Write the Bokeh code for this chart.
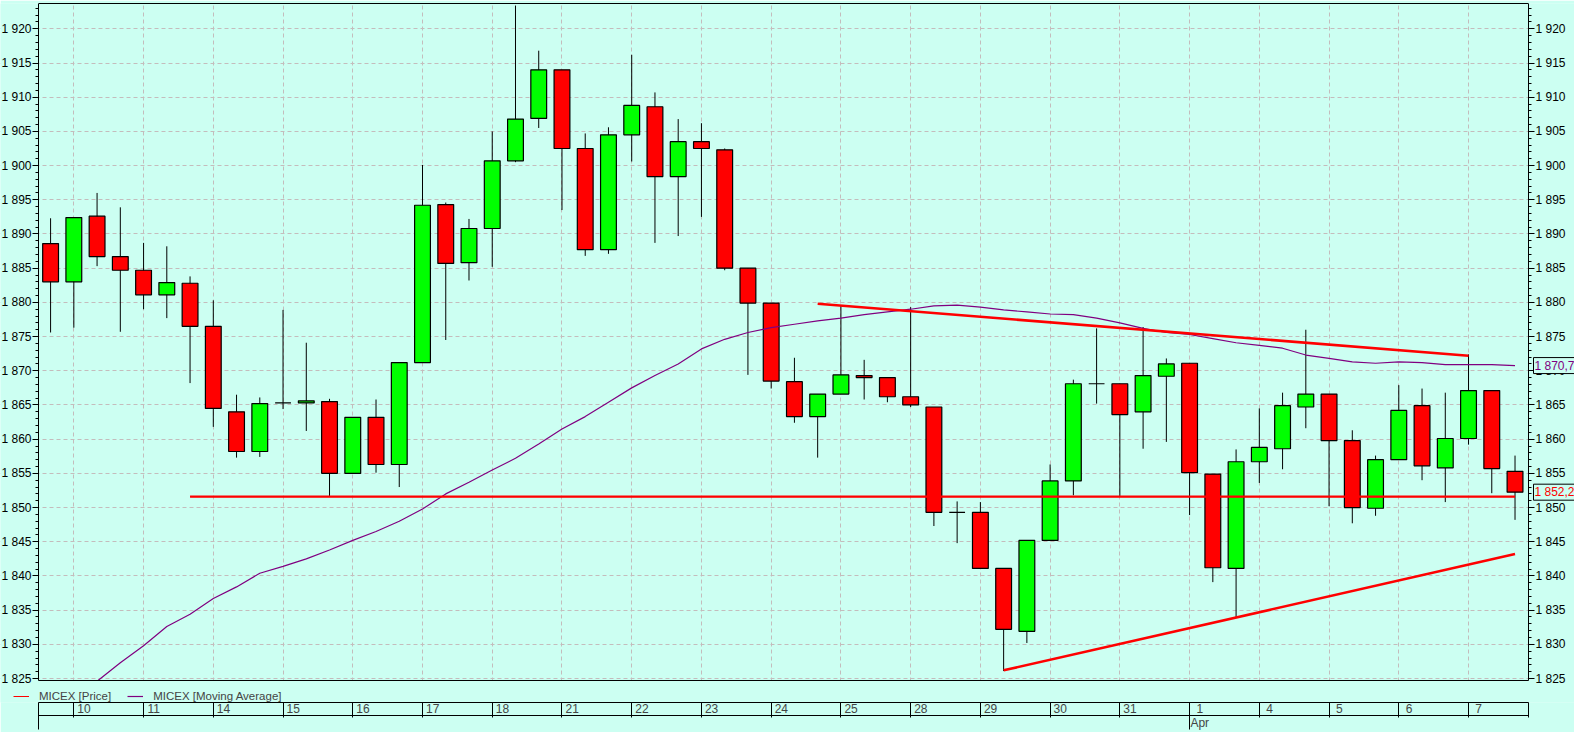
from bokeh.plotting import figure
from bokeh.models import (Range1d, LinearAxis, FixedTicker, SingleIntervalTicker, Grid,
                          CustomJSTickFormatter, ColumnDataSource, Legend, LegendItem, Label)
from bokeh.embed import file_html
from bokeh.resources import INLINE

# ---------------- data ----------------
opens = [1888.6, 1883.0, 1892.6, 1886.7, 1884.7, 1881.1, 1882.8, 1876.5, 1864.0, 1858.2,
         1865.3, 1865.3, 1865.5, 1855.0, 1863.2, 1856.3, 1871.2, 1894.3, 1885.8, 1890.8,
         1900.7, 1906.9, 1914.0, 1902.5, 1887.7, 1904.5, 1908.6, 1898.4, 1903.5, 1902.3,
         1885.0, 1879.9, 1868.4, 1863.3, 1866.6, 1869.3, 1869.0, 1866.2, 1864.7, 1849.3,
         1849.3, 1841.1, 1831.9, 1845.2, 1853.9, 1868.1, 1868.1, 1864.0, 1869.2, 1871.1,
         1854.9, 1841.1, 1856.7, 1858.6, 1864.7, 1866.6, 1859.8, 1849.9, 1857.0, 1864.9,
         1855.8, 1860.1, 1867.1, 1855.3]
highs = [1892.3, 1892.4, 1896.0, 1893.9, 1888.7, 1888.2, 1883.8, 1880.3, 1866.5, 1866.1,
         1878.9, 1874.1, 1865.9, 1863.2, 1865.8, 1871.2, 1900.1, 1894.6, 1892.2, 1905.0,
         1923.4, 1916.8, 1914.0, 1904.7, 1905.6, 1916.2, 1910.7, 1906.8, 1906.2, 1902.5,
         1885.0, 1879.9, 1871.9, 1866.6, 1879.5, 1871.6, 1869.0, 1879.3, 1864.7, 1850.9,
         1850.8, 1841.1, 1845.2, 1856.3, 1868.7, 1876.2, 1868.1, 1876.4, 1871.8, 1871.1,
         1854.9, 1858.5, 1864.5, 1866.8, 1876.0, 1866.6, 1861.3, 1857.6, 1867.9, 1867.4,
         1866.8, 1872.4, 1867.1, 1857.6]
lows = [1875.6, 1876.3, 1885.3, 1875.7, 1879.0, 1877.7, 1868.2, 1861.8, 1857.3, 1857.4,
        1864.4, 1861.2, 1851.7, 1855.0, 1855.1, 1853.0, 1871.2, 1874.5, 1883.2, 1885.2,
        1900.5, 1905.5, 1893.5, 1886.8, 1887.1, 1900.6, 1888.7, 1889.7, 1892.5, 1884.7,
        1869.4, 1867.4, 1862.4, 1857.3, 1866.6, 1865.8, 1865.4, 1864.7, 1847.3, 1844.8,
        1841.1, 1826.1, 1830.2, 1845.2, 1851.8, 1865.2, 1851.7, 1858.6, 1859.6, 1848.9,
        1839.1, 1833.9, 1853.6, 1855.6, 1861.6, 1850.2, 1847.7, 1848.8, 1857.0, 1854.0,
        1850.8, 1859.2, 1852.1, 1848.2]
closes = [1883.0, 1892.4, 1886.7, 1884.7, 1881.1, 1882.9, 1876.5, 1864.5, 1858.2, 1865.2,
          1865.3, 1865.6, 1855.0, 1863.2, 1856.3, 1871.2, 1894.2, 1885.7, 1890.8, 1900.7,
          1906.8, 1914.0, 1902.5, 1887.7, 1904.5, 1908.8, 1898.4, 1903.5, 1902.5, 1885.0,
          1879.9, 1868.5, 1863.3, 1866.6, 1869.4, 1869.0, 1866.2, 1865.0, 1849.3, 1849.3,
          1841.1, 1832.2, 1845.2, 1853.9, 1868.1, 1868.1, 1863.6, 1869.3, 1871.0, 1855.1,
          1841.2, 1856.7, 1858.8, 1864.9, 1866.6, 1859.8, 1850.0, 1857.0, 1864.2, 1856.1,
          1860.1, 1867.1, 1855.7, 1852.25]
moving_avg = [1819.6, 1822.1, 1824.6, 1827.3, 1829.8, 1832.6, 1834.4, 1836.7, 1838.4, 1840.4,
              1841.4, 1842.5, 1843.8, 1845.2, 1846.5, 1848.0, 1849.8, 1852.0, 1853.7, 1855.5,
              1857.2, 1859.3, 1861.5, 1863.3, 1865.4, 1867.5, 1869.3, 1871.0, 1873.2, 1874.6,
              1875.6, 1876.3, 1876.8, 1877.3, 1877.7, 1878.2, 1878.6, 1879.0, 1879.5, 1879.6,
              1879.3, 1878.9, 1878.6, 1878.3, 1878.2, 1877.7, 1877.0, 1876.2, 1875.6, 1875.3,
              1874.7, 1874.1, 1873.7, 1873.3, 1872.3, 1871.8, 1871.3, 1871.1, 1871.3, 1871.2,
              1870.9, 1870.9, 1870.9, 1870.76]

# trend lines drawn on the chart (bar index, price)
support_x = [6, 63]
support_y = [1851.6, 1851.6]
resist_x = [33, 61]
resist_y = [1879.8, 1872.2]
rising_x = [41, 63]
rising_y = [1826.2, 1843.2]

days = ["10", "11", "14", "15", "16", "17", "18", "21", "22", "23", "24", "25",
        "28", "29", "30", "31", "1", "4", "5", "6", "7"]
first_day_bar = 1          # bar where day "10" starts
bars_per_day = 3
month_label = "Apr"
month_day_index = 16       # "1" April in days list

y_major = 5

# ---------------- styling / layout ----------------
BG = "#CCFFF2"
GRID = "#C4BCBC"
RED = "#FF0000"
GREEN = "#00FF00"
PURPLE = "#800080"
FONT = "Liberation Sans"

W, H = 1574, 732
PRICE_LEFT_PX = 38          # left edge of the price area
PRICE_RIGHT_PX = 1528       # right edge of the price area
TOP_PX = 3
PRICE_BOTTOM_PX = 681
LEGEND_STRIP_PX = 22        # strip under the price area holding the legend
DATE_ROWS_PX = H - PRICE_BOTTOM_PX - LEGEND_STRIP_PX

n = len(opens)
idx = list(range(n))
x_lo, x_hi = -0.52, n - 0.42                  # price area in bar units
px_per_bar = (PRICE_RIGHT_PX - PRICE_LEFT_PX) / (x_hi - x_lo)
x_start = x_lo - PRICE_LEFT_PX / px_per_bar
x_end = x_hi + (W - PRICE_RIGHT_PX) / px_per_bar
y_lo, y_hi = 1824.71, 1923.7                  # price area in price units
px_per_unit = (PRICE_BOTTOM_PX - TOP_PX) / (y_hi - y_lo)
y_start = y_lo - LEGEND_STRIP_PX / px_per_unit

day_start = [first_day_bar + bars_per_day * k for k in range(len(days))]
lab_off = 0.4375
month_x = day_start[month_day_index]

p = figure(width=W, height=H, output_backend="svg", toolbar_location=None,
           x_range=Range1d(x_start, x_end), y_range=Range1d(y_start, y_hi),
           x_axis_type=None, y_axis_type=None,
           min_border_left=0, min_border_right=0, min_border_top=TOP_PX,
           min_border_bottom=DATE_ROWS_PX,
           background_fill_color=BG, border_fill_color=BG, outline_line_color=None)

# grids
p.add_layout(Grid(dimension=0, ticker=FixedTicker(ticks=day_start),
                  grid_line_color=GRID, grid_line_dash="4 3", grid_line_width=1))
p.add_layout(Grid(dimension=1, ticker=SingleIntervalTicker(interval=y_major),
                  grid_line_color=GRID, grid_line_dash="4 3", grid_line_width=1))

# candles
top = [max(o, c) for o, c in zip(opens, closes)]
bot = [min(o, c) for o, c in zip(opens, closes)]
col = [GREEN if c > o else RED for o, c in zip(opens, closes)]
src = ColumnDataSource(dict(x=idx, h=highs, l=lows, top=top, bot=bot, color=col))
p.segment(x0="x", y0="h", x1="x", y1="l", source=src, line_color="black", line_width=1)
p.vbar(x="x", width=0.68, top="top", bottom="bot", source=src,
       fill_color="color", line_color="black", line_width=1.2)

# moving average
r_ma = p.line(idx, moving_avg, line_color=PURPLE, line_width=1.2)

# trend lines (thin price-coloured line first: it is the legend's sample)
r_price = p.line(support_x, support_y, line_color=RED, line_width=1)
p.line(support_x, support_y, line_color=RED, line_width=2.2)
p.line(resist_x, resist_y, line_color=RED, line_width=2.6)
p.line(rising_x, rising_y, line_color=RED, line_width=2.6)

# blank strips around the price area (hide grid / overflow there)
p.quad(left=[x_start, x_hi, x_lo], right=[x_lo, x_end, x_hi],
       bottom=[y_start, y_start, y_start], top=[y_hi, y_hi, y_lo],
       fill_color=BG, line_color=None)

# y axes
yfmt = CustomJSTickFormatter(code=r"return Math.round(tick).toString().replace(/\B(?=(\d{3})+(?!\d))/g, ' ')")
yax_style = dict(major_tick_out=6, major_tick_in=0, minor_tick_out=3, minor_tick_in=0,
                 major_tick_line_color="black", minor_tick_line_color="black",
                 axis_line_color="black", major_label_standoff=1,
                 major_label_text_font=FONT, major_label_text_font_size="12px",
                 major_label_text_color="black", bounds=(y_lo, y_hi))
p.add_layout(LinearAxis(ticker=SingleIntervalTicker(interval=y_major, num_minor_ticks=5),
                        formatter=yfmt, fixed_location=x_lo, **yax_style), "left")
p.add_layout(LinearAxis(ticker=SingleIntervalTicker(interval=y_major, num_minor_ticks=5),
                        formatter=yfmt, fixed_location=x_hi, **yax_style), "right")

# top and bottom lines of the price area
p.add_layout(LinearAxis(ticker=FixedTicker(ticks=[]), bounds=(x_lo, x_hi),
                        axis_line_color="black", major_tick_out=0, minor_tick_out=0), "above")
p.add_layout(LinearAxis(ticker=FixedTicker(ticks=[]), bounds=(x_lo, x_hi), fixed_location=y_lo,
                        axis_line_color="black", major_tick_out=0, minor_tick_out=0), "below")

# legend (in the strip under the price area)
legend = Legend(items=[LegendItem(label="MICEX [Price]", renderers=[r_price]),
                       LegendItem(label="MICEX [Moving Average]", renderers=[r_ma])],
                location=(13, 0), orientation="horizontal", padding=0, margin=0,
                spacing=16, glyph_width=16, glyph_height=12, label_height=12,
                label_standoff=10, label_text_font=FONT, label_text_font_size="11.5px",
                background_fill_alpha=0, border_line_alpha=0)
p.add_layout(legend)

# date row
date_fmt = CustomJSTickFormatter(args=dict(labels=days, first=day_start[0] + lab_off, step=bars_per_day),
                                 code="const k = Math.round((tick - first) / step); return labels[k] || '';")
date_ax = LinearAxis(ticker=FixedTicker(ticks=[d + lab_off for d in day_start],
                                        minor_ticks=[x_lo + 0.001] + day_start + [x_hi - 0.001]),
                     formatter=date_fmt, bounds=(x_lo, x_hi),
                     major_tick_out=0, major_tick_in=0, major_tick_line_color=None,
                     minor_tick_out=15, minor_tick_in=0, minor_tick_line_color="black",
                     major_label_standoff=-14, major_label_text_font=FONT,
                     major_label_text_font_size="12px", axis_line_color="black")
p.add_layout(date_ax, "below")

# month row
mon_fmt = CustomJSTickFormatter(args=dict(label=month_label), code="return label;")
mon_ax = LinearAxis(ticker=FixedTicker(ticks=[month_x + lab_off], minor_ticks=[x_lo + 0.001, month_x]),
                    formatter=mon_fmt, bounds=(x_lo, x_hi),
                    major_tick_out=0, major_tick_in=0, major_tick_line_color=None,
                    minor_tick_out=14, minor_tick_in=0, minor_tick_line_color="black",
                    major_label_standoff=-14, major_label_text_font=FONT,
                    major_label_text_font_size="12px", axis_line_color="black")
p.add_layout(mon_ax, "below")

# last-value boxes on the right-hand scale
def fmt(v):
    return f"{v:,.2f}".replace(",", " ").replace(".", ",")

for val, colr in ((moving_avg[-1], PURPLE), (closes[-1], RED)):
    p.add_layout(Label(x=x_hi, x_offset=5, y=val, text=fmt(val), text_color=colr,
                       text_font=FONT, text_font_size="12px", text_baseline="middle",
                       text_align="left", border_line_color="black",
                       background_fill_color=BG, padding=1))

open("out.html", "w").write(file_html(p, INLINE))
